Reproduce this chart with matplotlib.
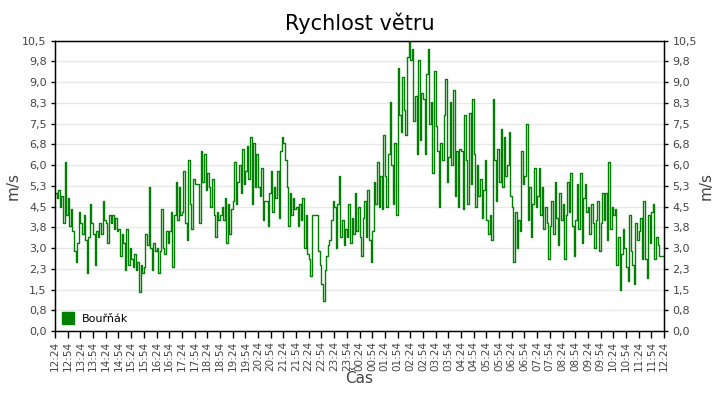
import numpy as np
import matplotlib
matplotlib.use("Agg")
import matplotlib.pyplot as plt
from matplotlib.lines import Line2D

# wind speed (m/s), 8 readings per half hour
speed_12_18 = [
    5.0, 4.8, 5.1, 4.5, 4.9, 3.9, 6.1, 4.2,
    4.8, 3.8, 4.4, 3.6, 2.9, 2.5, 3.2, 4.3,
    3.9, 3.5, 4.2, 3.3, 2.1, 3.4, 4.6, 3.9,
    3.5, 2.4, 3.6, 3.4, 3.9, 3.5, 4.7, 4.0,
    3.9, 3.2, 4.2, 3.9, 4.2, 3.7, 4.1, 3.6,
    3.7, 2.7, 3.5, 3.2, 2.2, 3.7, 2.4, 3.0,
    2.6, 2.3, 2.8, 2.2, 2.5, 1.4, 2.4, 2.1,
    2.3, 3.5, 3.1, 5.2, 3.0, 2.2, 3.2, 2.9,
    3.0, 2.1, 2.9, 4.4, 3.0, 2.8, 3.6, 3.2,
    3.6, 4.3, 2.3, 4.2, 5.4, 4.0, 5.2, 4.2,
    4.3, 5.8, 3.9, 3.3, 6.2, 4.6, 3.7, 5.5,
    5.3, 5.3, 5.3, 3.9, 6.5, 5.4, 6.4, 5.1,
]
speed_18_00 = [
    5.7, 5.2, 4.5, 5.5, 4.2, 3.4, 4.3, 4.0,
    4.2, 4.5, 4.0, 4.8, 3.2, 4.6, 3.5, 4.4,
    4.7, 6.1, 4.6, 5.4, 6.0, 5.0, 6.6, 5.3,
    5.8, 6.7, 5.5, 7.0, 4.6, 6.8, 5.2, 6.4,
    5.2, 4.9, 5.9, 4.0, 4.7, 4.7, 3.8, 5.0,
    5.8, 4.3, 5.2, 4.8, 5.8, 4.1, 6.5, 7.0,
    6.8, 6.2, 5.2, 3.8, 5.0, 4.2, 4.8, 4.4,
    4.5, 3.8, 4.6, 4.0, 4.8, 3.0, 4.2, 2.8,
    2.6, 2.0, 4.2, 4.2, 4.2, 4.2, 2.9, 2.4,
    1.7, 1.1, 2.2, 2.7, 3.1, 3.3, 4.0, 4.7,
    4.5, 3.0, 4.6, 5.6, 3.4, 4.0, 3.1, 3.7,
    3.4, 4.6, 3.2, 4.1, 3.5, 5.0, 3.6, 4.5,
]
speed_00_06 = [
    3.4, 2.7, 4.1, 4.7, 3.4, 5.1, 3.3, 2.5,
    3.6, 5.4, 4.6, 6.1, 4.5, 5.6, 4.4, 7.1,
    5.6, 4.5, 6.4, 8.3, 6.0, 4.6, 6.8, 4.2,
    9.5, 7.8, 7.2, 9.2, 8.0, 7.1, 9.9, 10.5,
    9.8, 10.2, 7.6, 8.5, 6.4, 9.8, 6.9, 8.6,
    8.4, 6.4, 9.3, 10.2, 7.5, 8.3, 5.7, 9.4,
    7.4, 6.5, 4.5, 6.8, 6.2, 7.8, 9.1, 5.4,
    6.3, 8.3, 6.0, 8.7, 4.9, 6.5, 4.5, 6.6,
    6.5, 4.4, 7.8, 6.2, 4.6, 7.9, 5.3, 8.4,
    6.4, 4.5, 6.0, 4.9, 5.5, 4.1, 5.1, 6.2,
    4.0, 3.5, 4.2, 3.3, 8.4, 6.2, 4.7, 6.6,
    5.4, 7.3, 5.2, 7.0, 5.6, 6.0, 7.2, 4.9,
]
speed_06_12 = [
    4.5, 2.5, 4.3, 3.0, 4.0, 3.6, 6.5, 5.3,
    5.6, 7.5, 4.0, 5.2, 3.4, 4.6, 5.9, 4.5,
    4.9, 5.9, 4.2, 5.2, 3.7, 4.5, 3.9, 2.6,
    3.8, 4.7, 3.5, 5.4, 4.1, 3.1, 5.0, 4.0,
    4.6, 2.6, 4.2, 5.4, 4.3, 5.7, 3.8, 2.7,
    4.0, 5.3, 3.7, 5.7, 3.2, 4.8, 5.3, 4.3,
    4.5, 3.5, 4.6, 3.9, 3.0, 4.0, 4.7, 2.9,
    3.9, 5.0, 4.0, 5.0, 3.3, 6.1, 3.7, 4.5,
    4.2, 4.4, 2.4, 3.4, 1.5, 2.8, 3.7, 3.0,
    2.3, 1.8, 4.2, 2.9, 2.4, 1.7, 3.9, 3.3,
    3.6, 4.1, 2.6, 4.7, 2.6, 1.9, 4.2, 3.2,
    4.3, 4.6, 2.6, 3.4, 3.1, 2.7, 2.7, 2.7,
    2.7,
]

ytick_labels = ["0,0", "0,8", "1,5", "2,3", "3,0", "3,8", "4,5", "5,3",
                "6,0", "6,8", "7,5", "8,3", "9,0", "9,8", "10,5"]

series_name = "Bouřňák"
GREEN = "#008000"
GREY = "#444444"

speed = np.array(speed_12_18 + speed_18_00 + speed_00_06 + speed_06_12)
minutes = np.linspace(0, 1440, len(speed))  # minutes since 12:24

# half hour ticks 12:24 ... 12:24
xticks = np.arange(0, 1441, 30)
xtick_labels = []
for m in xticks:
    t = (12 * 60 + 24 + m) % 1440
    xtick_labels.append("%02d:%02d" % (t // 60, t % 60))
yticks = np.arange(0, 10.51, 0.75)

fig = plt.figure(figsize=(7.2, 4.0), dpi=100)
ax = fig.add_axes([55 / 720, 1 - 331 / 400, 609 / 720, 290.3 / 400])

ax.plot(minutes, speed, color=GREEN, lw=1.0, drawstyle="steps-post")

ax.set_xlim(0, 1440)
ax.set_ylim(0, 10.5)
ax.set_xticks(xticks)
ax.set_xticklabels(xtick_labels, rotation=90, fontsize=7.5, color=GREY)
ax.set_yticks(yticks)
ax.set_yticklabels(ytick_labels, fontsize=8, color=GREY)
ax.tick_params(axis="x", length=5, width=1, pad=2)
ax.tick_params(axis="y", length=3, width=1, pad=3)
ax.grid(axis="y", color="#e8e8e8", lw=1)
ax.set_axisbelow(True)
for s in ax.spines.values():
    s.set_linewidth(1)
    s.set_color("black")

ax.set_ylabel("m/s", fontsize=11, color=GREY, labelpad=1)
ax.set_xlabel("Čas", fontsize=11, color=GREY, labelpad=0)

ax2 = ax.twinx()
ax2.set_ylim(0, 10.5)
ax2.set_yticks(yticks)
ax2.set_yticklabels(ytick_labels, fontsize=8, color=GREY)
ax2.tick_params(axis="y", length=3, width=1, pad=3)
ax2.set_ylabel("m/s", fontsize=11, color=GREY, labelpad=1)

fig.text(360 / 720, 1 - 23 / 400, "Rychlost větru", ha="center", va="center",
         fontsize=15, color="black")

handle = Line2D([], [], marker="s", ls="none", color=GREEN, markersize=8)
ax.legend([handle], [series_name], loc="lower left", frameon=False,
          fontsize=8, handletextpad=0.6, borderaxespad=0.3,
          borderpad=0.3, handlelength=1.2,
          bbox_to_anchor=(0.0, 0.0))

fig.savefig("out.png", dpi=100)
